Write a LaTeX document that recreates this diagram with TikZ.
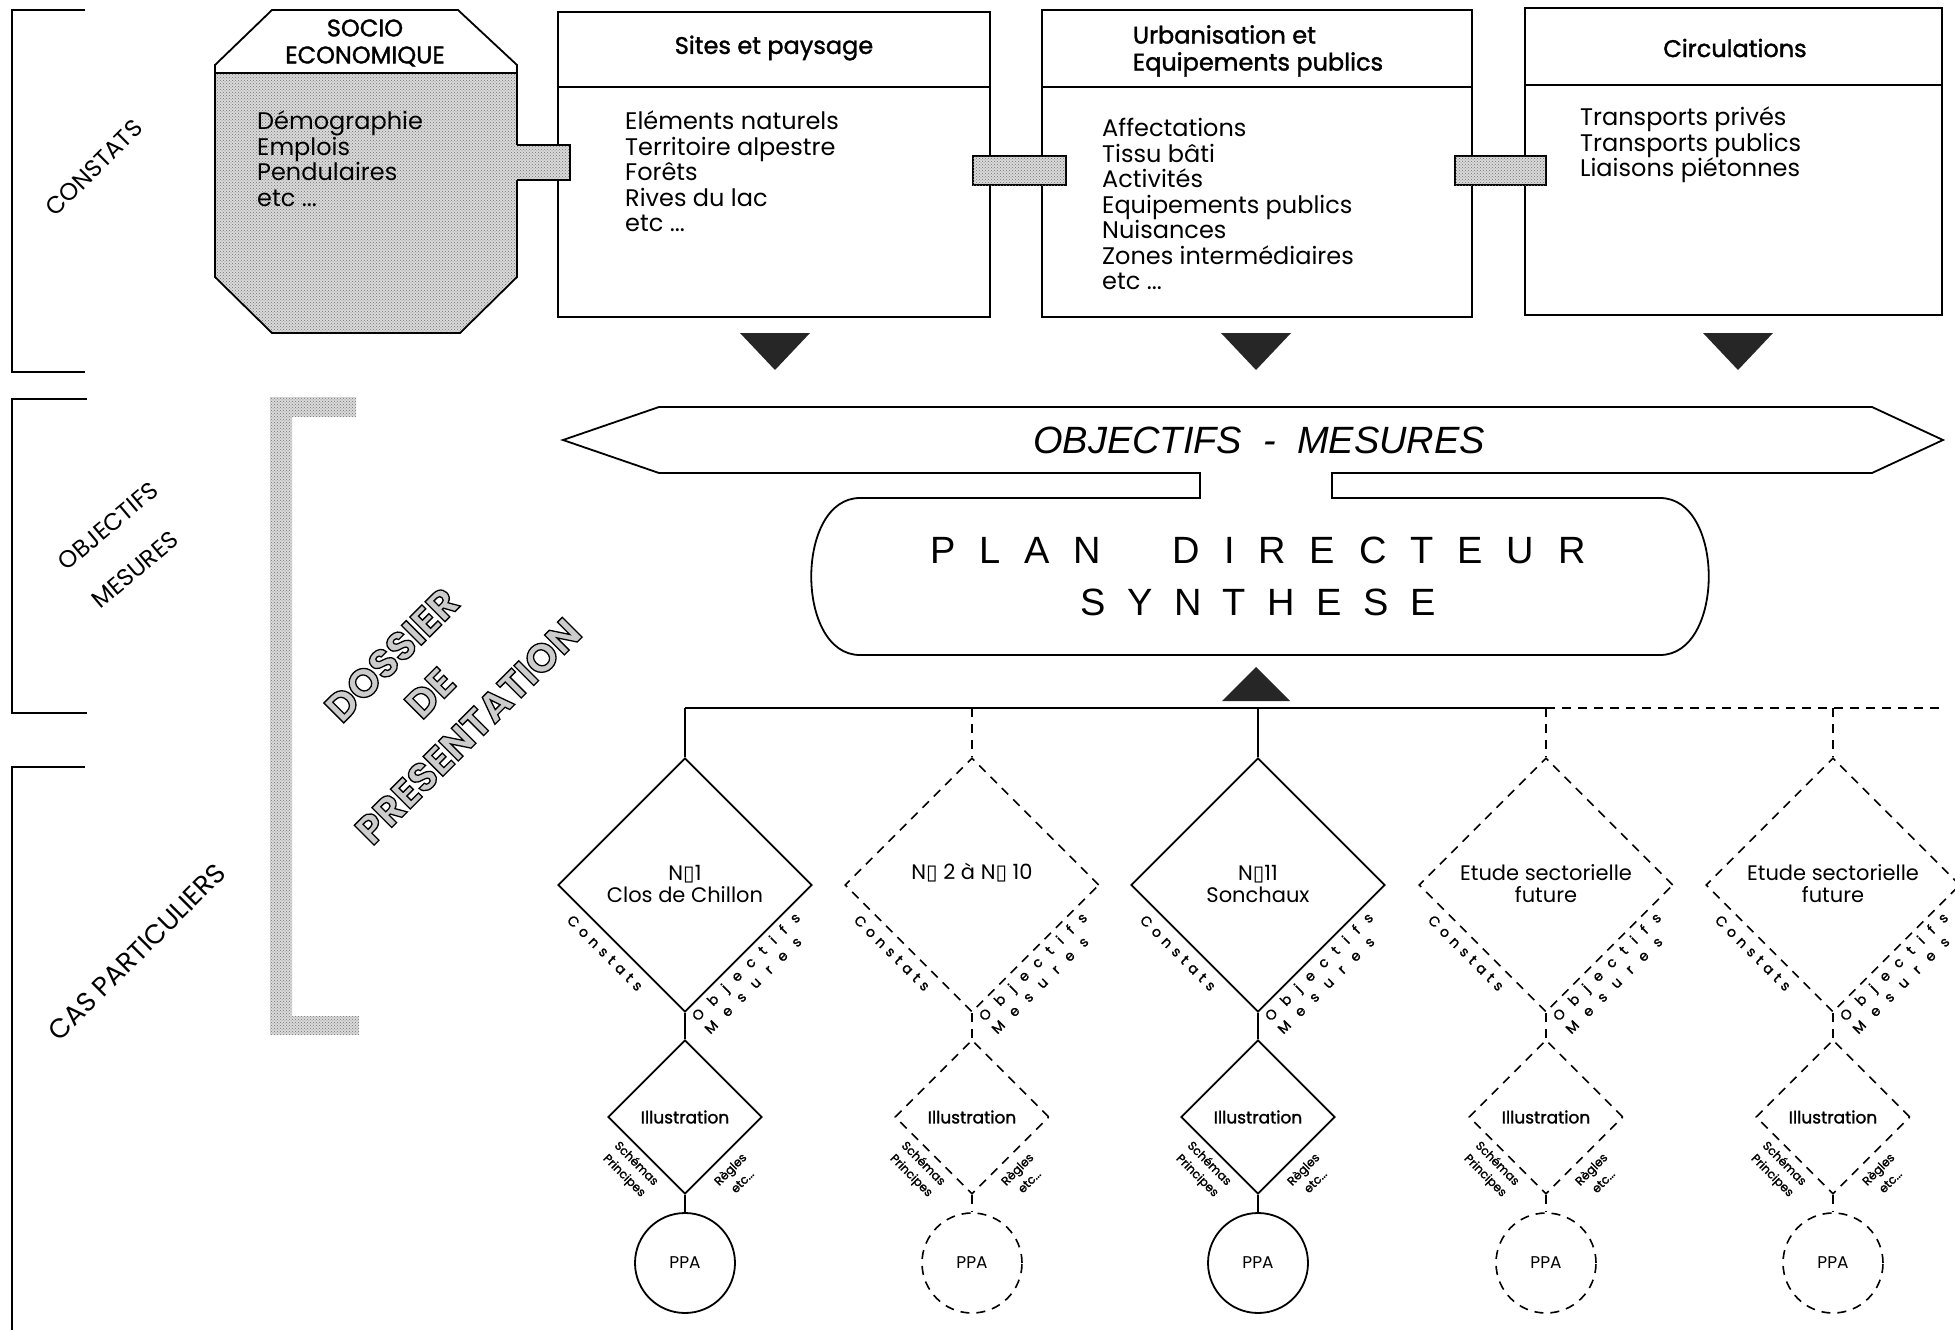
\documentclass[tikz,border=0pt]{standalone}
\usepackage{fontspec}
\setmainfont{Poppins}
\newfontfamily\semibf{Poppins}[FakeBold=1.5]
\newfontfamily\thinfont{Liberation Sans}
\newfontfamily\boxfont{DejaVu Sans}
\usetikzlibrary{shapes.geometric,patterns}
\newcommand{\nbox}{{\boxfont\char"25AF}}
\newcommand{\hollow}[1]{\special{pdf:literal direct 2 Tr 1.3 w 0 G}#1\special{pdf:literal direct 0 Tr}}

\tikzset{
  thickline/.style={line width=1.8pt},
  dashline/.style={line width=1.6pt, dash pattern=on 9pt off 7pt},
  halftone/.style={fill=black!15, postaction={pattern=crosshatch dots, pattern color=black!55}},
  darkfill/.style={fill=black!85},
  theme/.style={draw, line width=1.8pt, inner sep=0pt},
  title/.style={font=\semibf\fontsize{24}{27}\selectfont, align=left},
  items/.style={font=\fontsize{24}{25.5}\selectfont, align=left, inner sep=0pt, anchor=north west},
  phase/.style={font=\fontsize{24}{26}\selectfont},
  bigcase/.style={diamond, draw, minimum width=254pt, minimum height=254pt, inner sep=0pt},
  smallcase/.style={diamond, draw, minimum width=154pt, minimum height=154pt, inner sep=0pt, font=\semibf\fontsize{17}{20}\selectfont},
  ppa/.style={circle, draw, minimum size=100pt, inner sep=0pt, font=\fontsize{17}{20}\selectfont},
  casename/.style={font=\fontsize{21}{22}\selectfont, align=center},
  edgelab/.style={font=\semibf\fontsize{14}{18}\selectfont, align=left, inner sep=0pt},
  smalllab/.style={font=\semibf\fontsize{12}{17}\selectfont, align=center, inner sep=0pt},
  dossier/.style={font=\bfseries\fontsize{40}{54}\selectfont, align=center, rotate=45}
}

\begin{document}
\begin{tikzpicture}[x=1pt, y=-1pt]
\useasboundingbox (0,0) rectangle (1955,1330);

% phases on the left
\draw[line width=2.2pt] (85,10) -- (12,10) -- (12,372) -- (85,372);
\draw[line width=2.2pt] (87,399) -- (12,399) -- (12,713) -- (87,713);
\draw[line width=2.2pt] (85,767) -- (12,767) -- (12,1330);
\node[phase, rotate=45] (phase1) at (94,168) {CONSTATS};
\node[phase, rotate=40] (phase2a) at (108,526) {OBJECTIFS};
\node[phase, rotate=40] (phase2b) at (135,570) {MESURES};
\node[phase, rotate=45, font=\fontsize{27}{28}\selectfont] (phase3) at (137,952) {CAS PARTICULIERS};

% socio-economique
\begin{scope}
\clip (200,73) rectangle (530,340);
\fill[halftone] (272,10) -- (458,10) -- (517,65) -- (517,277) -- (460,333) -- (272,333) -- (215,277) -- (215,65) -- cycle;
\end{scope}
\draw[thickline] (272,10) -- (458,10) -- (517,65) -- (517,277) -- (460,333) -- (272,333) -- (215,277) -- (215,65) -- cycle;
\draw[thickline] (215,73) -- (517,73);
\node[title, align=center] (socio) at (365,43) {SOCIO\\ECONOMIQUE};
\node[items] (socioitems) at (257,111) {Démographie\\Emplois\\Pendulaires\\etc ...};

% themes
\node[theme, minimum width=432pt, minimum height=305pt] (sites) at (774,164.5) {};
\node[theme, minimum width=430pt, minimum height=307pt] (urba) at (1257,163.5) {};
\node[theme, minimum width=417pt, minimum height=307pt] (circ) at (1733.5,161.5) {};
\draw[thickline] (sites.west |- 0,87) -- (sites.east |- 0,87);
\draw[thickline] (urba.west |- 0,87) -- (urba.east |- 0,87);
\draw[thickline] (circ.west |- 0,85) -- (circ.east |- 0,85);
\node[title] (sitestitle) at (774,48) {Sites et paysage};
\node[title] (urbatitle) at (1258,51) {Urbanisation et\\Equipements publics};
\node[title] (circtitle) at (1735,48) {Circulations};
\node[items] (sitesitems) at (625,111) {Eléments naturels\\Territoire alpestre\\Forêts\\Rives du lac\\etc ...};
\node[items] (urbaitems) at (1102,118) {Affectations\\Tissu bâti\\Activités\\Equipements publics\\Nuisances\\Zones intermédiaires\\etc ...};
\node[items] (circitems) at (1580,107) {Transports privés\\Transports publics\\Liaisons piétonnes};

% links between the themes
\fill[halftone] (515,145) rectangle (570,180);
\draw[thickline] (517,145) -- (570,145) -- (570,180) -- (517,180);
\filldraw[halftone, thickline] (973,156) rectangle (1066,185);
\filldraw[halftone, thickline] (1455,156) rectangle (1546,185);

\foreach \tx in {775,1256,1738}
  \fill[darkfill] (\tx-35,333) -- (\tx+35,333) -- (\tx,370) -- cycle;

% objectifs - mesures and plan directeur
\draw[thickline, fill=white] (563,440) -- (659,407) -- (1872,407) -- (1943,440) -- (1872,473) -- (659,473) -- cycle;
\draw[thickline, fill=white] (860,498) -- (1660,498) .. controls (1725,498) and (1725,655) .. (1660,655) -- (860,655) .. controls (795,655) and (795,498) .. (860,498) -- cycle;
\fill[white] (1201,468) rectangle (1331,503);
\draw[thickline] (1200,473) -- (1200,498) (1332,473) -- (1332,498);
\node[font=\thinfont\itshape\fontsize{38}{40}\selectfont] (banner) at (1259,440) {OBJECTIFS \ - \ MESURES};
\node[font=\thinfont\fontsize{38}{52}\selectfont, align=center] (plan) at (1258,576) {\makebox[655pt]{P\hfill L\hfill A\hfill N\hfill\hfill\hfill D\hfill I\hfill R\hfill E\hfill C\hfill T\hfill E\hfill U\hfill R}\\\makebox[355pt]{S\hfill Y\hfill N\hfill T\hfill H\hfill E\hfill S\hfill E}};
\fill[darkfill] (1222,701) -- (1290,701) -- (1256,667) -- cycle;

% dossier de presentation
\fill[halftone] (356,397) -- (270,397) -- (270,1035) -- (359,1035) -- (359,1016) -- (292,1016) -- (292,417) -- (356,417) -- cycle;
\node[dossier, text=black!20] (dossier) at (430,693) {\hollow{DOSSIER\\DE\\PRESENTATION}};

% cas particuliers
\foreach \i/\cx/\ls in {1/685/thickline,2/972/dashline,3/1258/thickline,4/1546/dashline,5/1833/dashline}
{
  \coordinate (top\i) at (\cx,708);
  \node[bigcase, \ls] (case\i) at (\cx,885) {};
  \node[smallcase, \ls] (ill\i) at (\cx,1117) {Illustration};
  \node[ppa, \ls] (ppa\i) at (\cx,1263) {PPA};
  \draw[\ls] (top\i) -- (case\i.north);
  \draw[\ls] (case\i.south) -- (ill\i.north);
  \draw[\ls] (ill\i.south) -- (ppa\i.north);
  \node[edgelab, rotate=-45] (constats\i) at (\cx-80,953) {\makebox[100pt]{C\hfill o\hfill n\hfill s\hfill t\hfill a\hfill t\hfill s}};
  \node[edgelab, rotate=45] (objectifs\i) at (\cx+67,973) {\makebox[146pt]{O\hfill b\hfill j\hfill e\hfill c\hfill t\hfill i\hfill f\hfill s}\\\makebox[130pt]{M\hfill e\hfill s\hfill u\hfill r\hfill e\hfill s}};
  \node[smalllab, rotate=-45] (schemas\i) at (\cx-55,1170) {Schémas\\Principes};
  \node[smalllab, rotate=45] (regles\i) at (\cx+51,1175) {Règles\\etc...};
}
\coordinate (lineend) at (1943,708);
\draw[thickline] (top1) -- (top4);
\draw[dashline] (top4) -- (lineend);
\node[casename] (name1) at (685,884) {N\nbox1\\Clos de Chillon};
\node[casename] (name2) at (972,873) {N\nbox{} 2 à N\nbox{} 10};
\node[casename] (name3) at (1258,884) {N\nbox11\\Sonchaux};
\node[casename] (name4) at (1546,884) {Etude sectorielle\\future};
\node[casename] (name5) at (1833,884) {Etude sectorielle\\future};
\end{tikzpicture}
\end{document}
